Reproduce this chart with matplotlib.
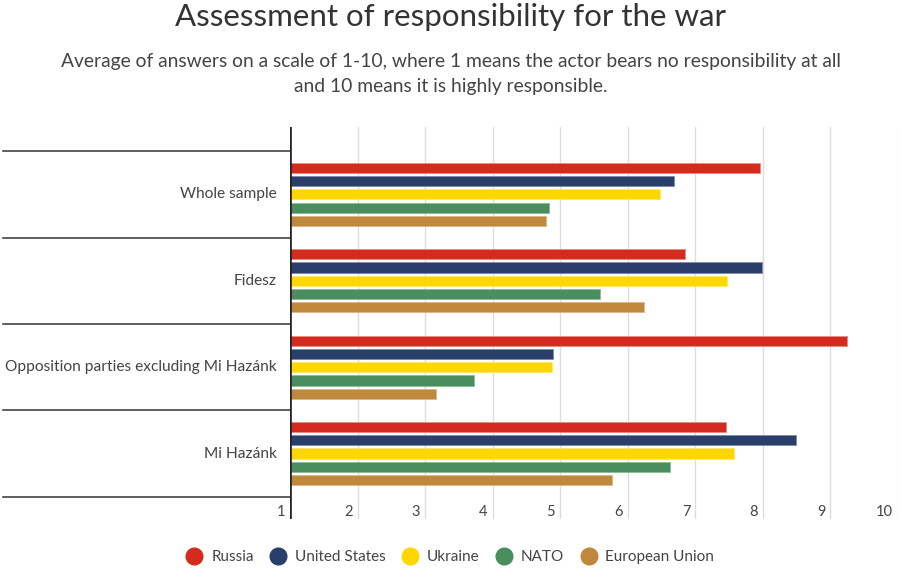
import matplotlib
matplotlib.use("Agg")
import matplotlib.pyplot as plt
import matplotlib.transforms as mtransforms
from matplotlib.lines import Line2D
import numpy as np

categories = ["Whole sample", "Fidesz", "Opposition parties excluding Mi Hazánk", "Mi Hazánk"]
series_names = ["Russia", "United States", "Ukraine", "NATO", "European Union"]
russia = [7.95, 6.85, 9.25, 7.45]
united_states = [6.69, 7.99, 4.90, 8.49]
ukraine = [6.47, 7.47, 4.88, 7.57]
nato = [4.84, 5.59, 3.73, 6.63]
european_union = [4.79, 6.24, 3.16, 5.76]
tick_values = [1, 2, 3, 4, 5, 6, 7, 8, 9, 10]
tick_labels = ["1", "2", "3", "4", "5", "6", "7", "8", "9", "10"]

title = "Assessment of responsibility for the war"
subtitle = ("Average of answers on a scale of 1-10, where 1 means the actor bears no responsibility at all\n"
            "and 10 means it is highly responsible.")

colors = ["#D52B1E", "#293F69", "#FFD700", "#4A8E5F", "#C0883A"]
edge_colors = ["#E88A84", "#7F8CA8", "#FFE766", "#8DB99A", "#DDB889"]

plt.rcParams['font.family'] = ['Lato', 'DejaVu Sans']
text_color = "#444444"

W, H = 901, 569
fig = plt.figure(figsize=(W / 100, H / 100), dpi=100)
ax_left, ax_right, ax_top, ax_bottom = 290, 898, 127, 519
ax = fig.add_axes([ax_left / W, 1 - ax_bottom / H, (ax_right - ax_left) / W, (ax_bottom - ax_top) / H])

all_series = [russia, united_states, ukraine, nato, european_union]
y = np.arange(len(categories))
spacing = 0.153
bar_h = 0.118
for i, (vals, c, ec) in enumerate(zip(all_series, colors, edge_colors)):
    offs = (i - 2) * spacing
    ax.barh(y + offs, np.array(vals) - 1, left=1, height=bar_h, color=c,
            edgecolor=ec, linewidth=0.6, zorder=3)

ax.set_xlim(1, 10)
ax.set_ylim(3.757, -0.78)

# gridlines
for v in tick_values[1:]:
    ax.axvline(v, color="#DDDDDD", lw=1.0, zorder=1)
ax.axvline(1, color="#222222", lw=1.9, zorder=4)

for s in ax.spines.values():
    s.set_visible(False)
ax.set_xticks([])
ax.set_yticks([])

# tick labels (right aligned, slightly left of gridline, inside the bottom)
trans_x = mtransforms.blended_transform_factory(ax.transData, ax.transAxes)
off = mtransforms.ScaledTranslation(-5 / 100, 0, fig.dpi_scale_trans)
for v, lab in zip(tick_values, tick_labels):
    ax.text(v, 0.018, lab, transform=trans_x + off, ha="right", va="center",
            fontsize=10.5, color=text_color)

# category separators and labels
trans_y = mtransforms.blended_transform_factory(ax.transAxes, ax.transData)
x0 = (3 - ax_left) / (ax_right - ax_left)
for b in np.arange(-0.5, len(categories), 1.0):
    ax.plot([x0, 0], [b, b], transform=trans_y, color="#333333", lw=1.1, clip_on=False, zorder=2)
xl = (277 - ax_left) / (ax_right - ax_left)
for yi, cat in zip(y, categories):
    ax.text(xl, yi, cat, transform=trans_y, ha="right", va="center", fontsize=11.2, color=text_color)

# title and subtitle
fig.text(0.5, 1 - 17 / H, title, ha="center", va="center", fontsize=22.5, color="#333333", fontweight="normal")
fig.text(0.5, 1 - 74 / H, subtitle, ha="center", va="center", fontsize=13.9, color=text_color,
         linespacing=1.55)

# legend
handles = [Line2D([], [], marker="o", linestyle="none", markersize=12, markerfacecolor=c,
                  markeredgecolor=c) for c in colors]
fig.legend(handles, series_names, loc="center", bbox_to_anchor=(0.5, 1 - 557 / H), ncol=5,
           frameon=False, fontsize=11, handletextpad=0.6, columnspacing=1.1,
           labelcolor=text_color, handlelength=1.0)

fig.savefig("out.png", dpi=100)
